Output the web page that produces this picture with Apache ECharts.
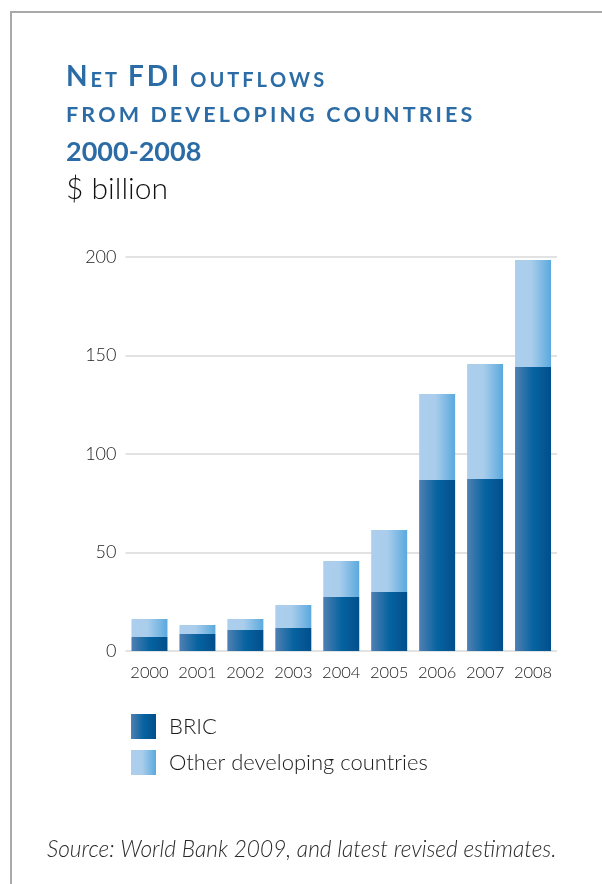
<!DOCTYPE html>
<html>
<head>
<meta charset="utf-8">
<script src="https://cdn.jsdelivr.net/npm/echarts@6/dist/echarts.min.js"></script>
<style>
  html, body { margin: 0; padding: 0; background: #ffffff; }
  #chart { width: 602px; height: 884px; }
</style>
</head>
<body>
<div id="chart"></div>
<script>
// Net FDI outflows from developing countries, $ billion
const years = ['2000', '2001', '2002', '2003', '2004', '2005', '2006', '2007', '2008'];
const bric = [7.1, 8.6, 10.7, 11.7, 27.4, 30.0, 86.8, 87.3, 144.2];
const otherDeveloping = [9.1, 4.6, 5.5, 11.7, 18.3, 31.4, 43.7, 58.4, 54.3];
const seriesNames = ['BRIC', 'Other developing countries'];
const yTicks = { min: 0, max: 200, interval: 50 };

const titleBlue = '#2b6ca6';
const fontFamily = 'Lato, "Open Sans", sans-serif';

// Build a rich-text string that fakes small caps with letter spacing:
// original capitals use the "cap" style, everything else becomes an upper-case "sc" token.
function smallCaps(str) {
  let out = '';
  for (const ch of str) {
    const isCap = ch !== ' ' && ch === ch.toUpperCase() && ch !== ch.toLowerCase();
    out += '{' + (isCap ? 'cap' : 'sc') + '|' + ch.toUpperCase() + '}';
  }
  return out;
}

function capsRich(capSize, scSize, spacing) {
  const base = { fontFamily, fontWeight: 'bold', fill: titleBlue, verticalAlign: 'bottom' };
  return {
    cap: Object.assign({}, base, { fontSize: capSize, lineHeight: capSize, padding: [0, spacing, 0, 0] }),
    sc: Object.assign({}, base, { fontSize: scSize, lineHeight: capSize, padding: [0, spacing, 0, 0] })
  };
}

const chart = echarts.init(document.getElementById('chart'));

const bricColor = new echarts.graphic.LinearGradient(0, 0, 1, 0, [
  { offset: 0, color: '#5080b1' },
  { offset: 0.5, color: '#0763a1' },
  { offset: 1, color: '#004f8b' }
]);
const otherColor = new echarts.graphic.LinearGradient(0, 0, 1, 0, [
  { offset: 0, color: '#accfec' },
  { offset: 0.45, color: '#a9cdeb' },
  { offset: 1, color: '#5aa9de' }
]);

chart.setOption({
  backgroundColor: '#ffffff',
  animation: false,
  graphic: [
    // frame lines on the top and left edges
    {
      type: 'polyline',
      shape: { points: [[11, 884], [11, 12], [602, 12]] },
      style: { stroke: '#a9a9a9', lineWidth: 2, fill: null }
    },
    {
      type: 'text', left: 66, top: 63,
      style: { text: smallCaps('Net FDI outflows'), rich: capsRich(28, 20, 3) }
    },
    {
      type: 'text', left: 66, top: 104,
      style: { text: smallCaps('from developing countries'), rich: capsRich(21.5, 21.5, 3.1) }
    },
    {
      type: 'text', left: 66, top: 139,
      style: { text: '2000-2008', fontFamily, fontWeight: 'bold', fontSize: 27, fill: titleBlue }
    },
    {
      type: 'text', left: 66, top: 174,
      style: { text: '$ billion', fontFamily, fontWeight: 300, fontSize: 30, fill: '#111111' }
    },
    {
      type: 'text', left: 47, top: 838,
      style: { text: 'Source: World Bank 2009, and latest revised estimates.', fontFamily, fontStyle: 'italic', fontWeight: 300, fontSize: 22.7, fill: '#2a2a2a' }
    }
  ],
  legend: {
    orient: 'vertical',
    left: 131,
    top: 714,
    padding: 0,
    itemWidth: 25,
    itemHeight: 25,
    itemGap: 11,
    icon: 'rect',
    data: seriesNames,
    textStyle: { fontFamily, fontWeight: 300, fontSize: 22, color: '#1a1a1a', padding: [0, 0, 0, 8] }
  },
  grid: { left: 125.5, right: 45, top: 257, bottom: 233 },
  xAxis: {
    type: 'category',
    data: years,
    axisLine: { show: false },
    axisTick: { show: false },
    axisLabel: { interval: 0, margin: 13, fontFamily, fontWeight: 300, fontSize: 16.5, color: '#222222' }
  },
  yAxis: {
    type: 'value',
    min: yTicks.min,
    max: yTicks.max,
    interval: yTicks.interval,
    axisLine: { show: false },
    axisTick: { show: false },
    axisLabel: { margin: 9, fontFamily, fontWeight: 300, fontSize: 18, color: '#222222' },
    splitLine: { lineStyle: { color: '#d9d9d9', width: 1.5 } }
  },
  series: [
    {
      name: seriesNames[0], type: 'bar', stack: 'fdi', data: bric,
      barWidth: 36, itemStyle: { color: bricColor }
    },
    {
      name: seriesNames[1], type: 'bar', stack: 'fdi', data: otherDeveloping,
      barWidth: 36, itemStyle: { color: otherColor }
    }
  ]
});
</script>
</body>
</html>
